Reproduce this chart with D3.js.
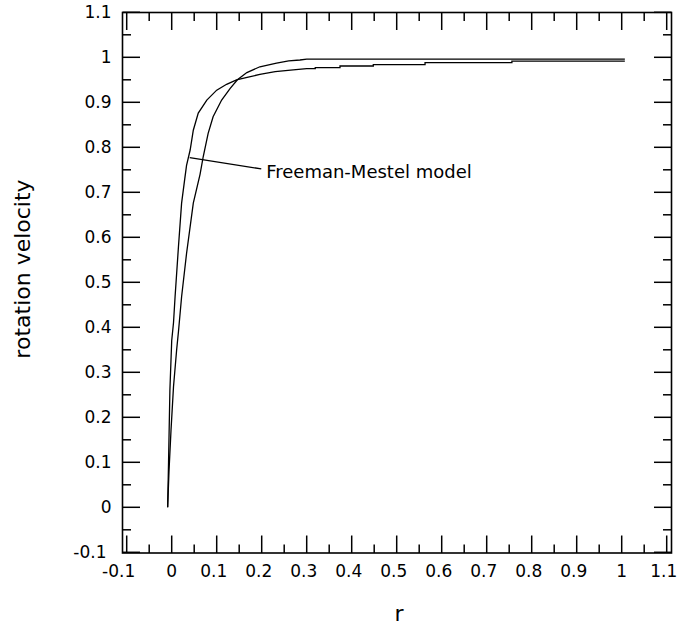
<!DOCTYPE html>
<html>
<head>
<meta charset="utf-8">
<script src="https://cdn.jsdelivr.net/npm/d3@7"></script>
<style>
  html, body { margin: 0; padding: 0; background: #fff; }
  svg { display: block; }
  text { font-family: "DejaVu Sans", sans-serif; fill: #000; }
</style>
</head>
<body>
<svg id="chart" width="681" height="628"></svg>
<script>
// ---- data ----
const xTicks = [-0.1, 0, 0.1, 0.2, 0.3, 0.4, 0.5, 0.6, 0.7, 0.8, 0.9, 1, 1.1];
const yTicks = [-0.1, 0, 0.1, 0.2, 0.3, 0.4, 0.5, 0.6, 0.7, 0.8, 0.9, 1, 1.1];
const xTickLabels = ["-0.1","0","0.1","0.2","0.3","0.4","0.5","0.6","0.7","0.8","0.9","1","1.1"];
const yTickLabels = ["-0.1","0","0.1","0.2","0.3","0.4","0.5","0.6","0.7","0.8","0.9","1","1.1"];

// curve A (rises faster, levels at ~0.99)
const curveAx = [-0.009, -0.007, -0.004, 0.0, 0.004, 0.0075, 0.015, 0.022, 0.029, 0.033, 0.041, 0.048, 0.059, 0.078, 0.1, 0.122, 0.144, 0.17, 0.196, 0.23, 0.27, 0.3, 0.319, 0.319, 0.374, 0.374, 0.448, 0.448, 0.563, 0.563, 0.756, 0.756, 1.007];
const curveAy = [0, 0.1, 0.26, 0.37, 0.41, 0.468, 0.579, 0.676, 0.73, 0.76, 0.794, 0.838, 0.876, 0.905, 0.927, 0.94, 0.95, 0.956, 0.962, 0.968, 0.972, 0.9747, 0.9747, 0.977, 0.977, 0.9807, 0.9807, 0.9836, 0.9836, 0.988, 0.988, 0.9915, 0.9915];

// curve B (rises slower, levels at ~1.0)
const curveBx = [-0.009, -0.006, -0.0015, 0.004, 0.011, 0.015, 0.022, 0.033, 0.048, 0.063, 0.07, 0.081, 0.092, 0.111, 0.13, 0.146, 0.167, 0.196, 0.233, 0.26, 0.285, 0.3, 1.007];
const curveBy = [0, 0.08, 0.172, 0.268, 0.35, 0.39, 0.468, 0.564, 0.676, 0.74, 0.779, 0.831, 0.868, 0.905, 0.931, 0.95, 0.966, 0.979, 0.987, 0.992, 0.994, 0.996, 0.996];

const annotationText = "Freeman-Mestel model";
const annotationLine = [[0.04, 0.777], [0.199, 0.752]];
const annotationPos = [0.21, 0.732];

const xLabel = "r";
const yLabel = "rotation velocity";

// ---- layout ----
const svg = d3.select("#chart");
const frame = {left: 122.5, right: 671.5, top: 12.5, bottom: 553};
const x = d3.scaleLinear().domain([-0.1, 1.1]).range([126.7, 666.7]);
const y = d3.scaleLinear().domain([-0.1, 1.1]).range([552.3, 12.3]);

const majorLen = 17.5, minorLen = 8.5;
const g = svg.append("g");

// minor ticks positions (midpoints)
const xMinor = d3.range(xTicks.length - 1).map(i => (xTicks[i] + xTicks[i+1]) / 2);
const yMinor = d3.range(yTicks.length - 1).map(i => (yTicks[i] + yTicks[i+1]) / 2);

const tickStyle = sel => sel.attr("stroke", "#000").attr("stroke-width", 1.5);

// bottom & top x ticks
[[frame.bottom, -1], [frame.top, 1]].forEach(([yy, dir]) => {
  g.selectAll(null).data(xTicks).enter().append("line")
    .attr("x1", d => x(d)).attr("x2", d => x(d))
    .attr("y1", yy).attr("y2", yy + dir * majorLen).call(tickStyle);
  g.selectAll(null).data(xMinor).enter().append("line")
    .attr("x1", d => x(d)).attr("x2", d => x(d))
    .attr("y1", yy).attr("y2", yy + dir * minorLen).call(tickStyle);
});
// left & right y ticks
[[frame.left, 1], [frame.right, -1]].forEach(([xx, dir]) => {
  g.selectAll(null).data(yTicks).enter().append("line")
    .attr("y1", d => y(d)).attr("y2", d => y(d))
    .attr("x1", xx).attr("x2", xx + dir * majorLen).call(tickStyle);
  g.selectAll(null).data(yMinor).enter().append("line")
    .attr("y1", d => y(d)).attr("y2", d => y(d))
    .attr("x1", xx).attr("x2", xx + dir * minorLen).call(tickStyle);
});

// frame
g.append("rect")
  .attr("x", frame.left).attr("y", frame.top)
  .attr("width", frame.right - frame.left).attr("height", frame.bottom - frame.top)
  .attr("fill", "none").attr("stroke", "#000").attr("stroke-width", 1.6);

// tick labels
g.selectAll(null).data(xTicks).enter().append("text")
  .attr("x", (d, i) => x(d) + (xTickLabels[i].startsWith("-") ? -8 : (xTickLabels[i].includes(".") ? -3 : 0)))
  .attr("y", 577)
  .attr("text-anchor", "middle")
  .attr("font-size", 17)
  .text((d, i) => xTickLabels[i]);

g.selectAll(null).data(yTicks).enter().append("text")
  .attr("x", (d, i) => 111.5 + (yTickLabels[i].startsWith("-") ? -5 : 0))
  .attr("y", d => y(d))
  .attr("dy", "0.35em")
  .attr("text-anchor", "end")
  .attr("font-size", 17)
  .text((d, i) => yTickLabels[i]);

// axis titles
svg.append("text")
  .attr("x", 399).attr("y", 621)
  .attr("text-anchor", "middle").attr("font-size", 22)
  .text(xLabel);
svg.append("text")
  .attr("transform", "translate(30,269) rotate(-90)")
  .attr("text-anchor", "middle").attr("font-size", 22)
  .text(yLabel);

// curves
const line = d3.line().x(d => x(d[0])).y(d => y(d[1]));
const dataA = curveAx.map((v, i) => [v, curveAy[i]]);
const dataB = curveBx.map((v, i) => [v, curveBy[i]]);
[dataA, dataB].forEach(data => {
  svg.append("path").datum(data)
    .attr("d", line)
    .attr("fill", "none").attr("stroke", "#000").attr("stroke-width", 1.3);
});

// annotation
svg.append("path").datum(annotationLine)
  .attr("d", line)
  .attr("fill", "none").attr("stroke", "#000").attr("stroke-width", 1.3);
svg.append("text")
  .attr("x", x(annotationPos[0])).attr("y", y(annotationPos[1]))
  .attr("font-size", 18)
  .text(annotationText);
</script>
</body>
</html>
